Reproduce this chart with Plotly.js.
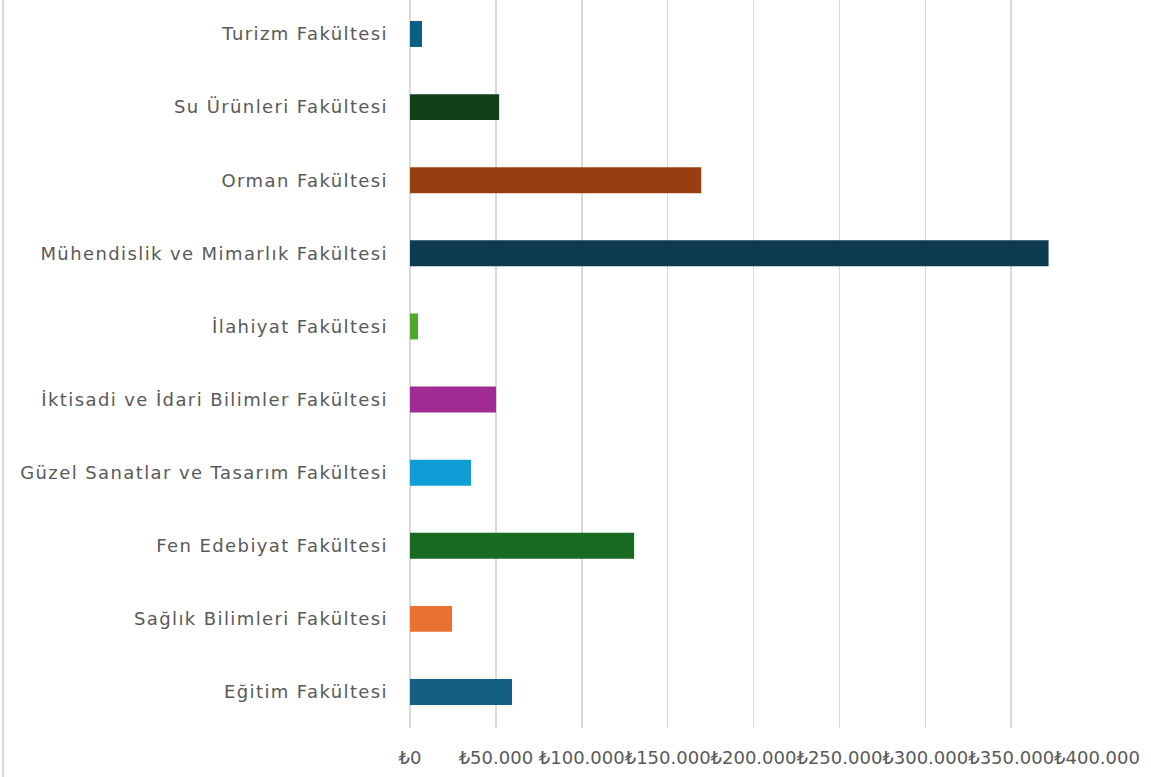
<!DOCTYPE html>
<html>
<head>
<meta charset="utf-8">
<script src="https://cdn.plot.ly/plotly-3.0.1.min.js"></script>
<style>
html,body{margin:0;padding:0;background:#fff;}
#wrap{position:relative;width:1151px;height:777px;}
#border{position:absolute;left:2px;top:0;width:1.5px;height:777px;background:#d9d9d9;}
#chart{position:absolute;left:0;top:0;width:1151px;height:777px;}
#chart .ytick text{letter-spacing:1.4px;}
</style>
</head>
<body>
<div id="wrap"><div id="chart"></div><div id="border"></div></div>
<script>
const categories = [
  "Eğitim Fakültesi",
  "Sağlık Bilimleri Fakültesi",
  "Fen Edebiyat Fakültesi",
  "Güzel Sanatlar ve Tasarım Fakültesi",
  "İktisadi ve İdari Bilimler Fakültesi",
  "İlahiyat Fakültesi",
  "Mühendislik ve Mimarlık Fakültesi",
  "Orman Fakültesi",
  "Su Ürünleri Fakültesi",
  "Turizm Fakültesi"
];
const values = [59400, 24500, 130500, 35500, 50100, 4700, 371800, 169600, 51900, 7000];
const barColors = ["#156082", "#E97132", "#196B24", "#0F9ED5", "#A02B93", "#4EA72E", "#0E3A4F", "#983F12", "#123F18", "#0A5F83"];
const tickValues = [0, 50000, 100000, 150000, 200000, 250000, 300000, 350000, 400000];
const tickLabels = ["₺0", "₺50.000", "₺100.000", "₺150.000", "₺200.000", "₺250.000", "₺300.000", "₺350.000", "₺400.000"];

const trace = {
  type: "bar",
  orientation: "h",
  y: categories,
  x: values,
  marker: {color: barColors, line: {width: 0}},
  hoverinfo: "x+y"
};

const layout = {
  width: 1151,
  height: 777,
  margin: {l: 410, r: 54, t: 0, b: 49, pad: 0},
  paper_bgcolor: "#ffffff",
  plot_bgcolor: "#ffffff",
  bargap: 0.645,
  showlegend: false,
  font: {family: "DejaVu Sans, sans-serif", color: "#595959"},
  xaxis: {
    range: [0, 400000],
    tickvals: tickValues,
    ticktext: tickLabels,
    tickangle: 0,
    showgrid: true,
    gridcolor: "#d9d9d9",
    gridwidth: 1.5,
    zeroline: true,
    zerolinecolor: "#d9d9d9",
    zerolinewidth: 1.5,
    showline: false,
    ticks: "",
    ticklabelstandoff: 17,
    tickfont: {family: "DejaVu Sans, sans-serif", size: 18, color: "#595959"},
    fixedrange: true
  },
  yaxis: {
    type: "category",
    range: [-0.4924, 9.465],
    showgrid: false,
    zeroline: false,
    showline: false,
    ticks: "",
    ticklabelstandoff: 21,
    tickfont: {family: "DejaVu Sans, sans-serif", size: 18, color: "#595959"},
    fixedrange: true
  }
};

Plotly.newPlot("chart", [trace], layout, {displayModeBar: false, staticPlot: true});
</script>
</body>
</html>
